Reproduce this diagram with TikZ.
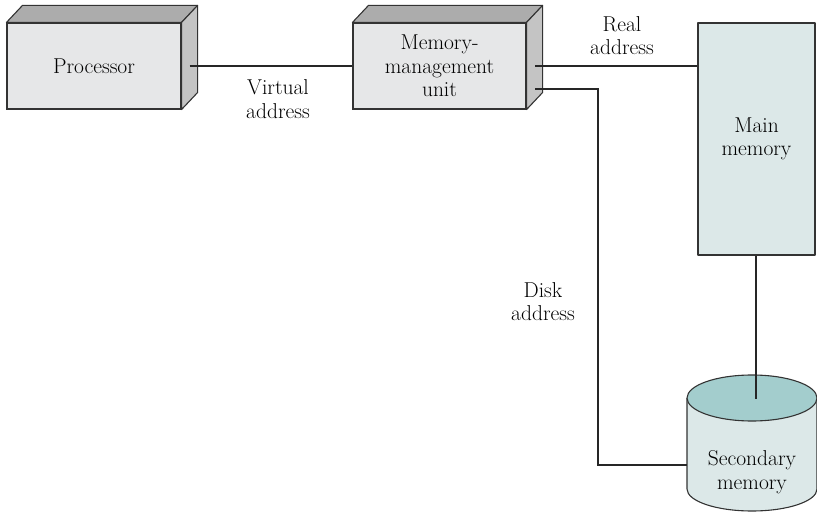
\documentclass[tikz,border=0pt]{standalone}
\usetikzlibrary{calc}
\definecolor{boxfront}{RGB}{230,231,232}
\definecolor{boxtop}{RGB}{172,172,172}
\definecolor{boxside}{RGB}{196,196,196}
\definecolor{memfill}{RGB}{220,232,232}
\definecolor{cyltop}{RGB}{163,205,205}

\begin{document}
\begin{tikzpicture}[x=1pt, y=1pt,
  every node/.style={font=\fontsize{21.5}{23.5}\selectfont, align=center},
  front/.style={draw=black!80, line width=1.1pt, fill=boxfront, inner sep=0pt, minimum width=#1, minimum height=86},
  face/.style={draw=black!80, line width=1.1pt, line join=round},
  wire/.style={line width=2.4pt, black!85},
  lbl/.style={inner sep=0pt}]
  \useasboundingbox (0,0) rectangle (817,512);

  % boxes with depth
  \node[front=174] (proc) at (94,446) {Processor};
  \node[front=173] (mmu) at (439.5,446) {Memory-\\management\\unit};
  \foreach \n in {proc,mmu} {
    \draw[face, fill=boxtop] (\n.north west) -- ++(16,17) -- ($(\n.north east)+(16,17)$) -- (\n.north east) -- cycle;
    \draw[face, fill=boxside] (\n.north east) -- ++(16,17) -- ($(\n.south east)+(16,17)$) -- (\n.south east) -- cycle;
  }
  \node[face, fill=memfill, minimum width=117, minimum height=232, inner sep=0pt] (main) at (756.5,373) {Main\\memory};

  % secondary memory drum
  \fill[memfill] (687,114) -- (687,23) arc[start angle=180, end angle=360, x radius=65, y radius=22] -- (817,114) -- cycle;
  \draw[face] (687,114) -- (687,23) arc[start angle=180, end angle=360, x radius=65, y radius=22] -- (817,114);
  \draw[face, fill=cyltop] (752,114) ellipse[x radius=65, y radius=23];
  \node[lbl] (disk) at (752,40) {Secondary\\memory};

  \coordinate (proc-out) at ($(proc.east)+(8,0)$);
  \coordinate (mmu-out1) at ($(mmu.east)+(8.5,0)$);
  \coordinate (mmu-out2) at ($(mmu.east)+(8.5,-23)$);
  \coordinate (disk-top) at (756,113);
  \coordinate (disk-bend) at (598,47);
  \coordinate (disk-in) at (687,47);

  % connections
  \draw[wire] (proc-out) -- (mmu.west);
  \draw[wire] (mmu-out1) -- (mmu-out1 -| main.west);
  \draw[wire] (mmu-out2) -| (disk-bend) -- (disk-in);
  \draw[wire] (main.south -| disk-top) -- (disk-top);

  \node[lbl] (virt) at (278,413) {Virtual\\address};
  \node[lbl] (real) at (622,476.5) {Real\\address};
  \node[lbl] (dadr) at (543,210.5) {Disk\\address};
\end{tikzpicture}
\end{document}
